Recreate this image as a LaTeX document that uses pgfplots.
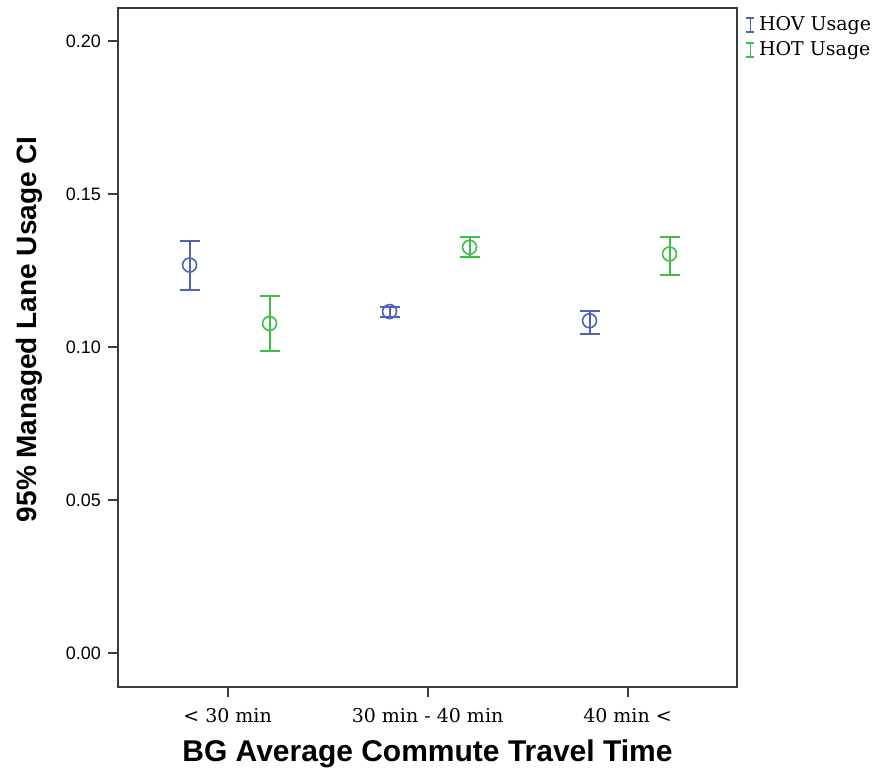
\documentclass[border=0pt]{standalone}
\usepackage{fontspec}
\setmainfont{Liberation Sans}
\newfontfamily\seriffont{DejaVu Serif}
\usepackage{pgfplots}
\pgfplotsset{compat=1.18}
\usepackage{pgfplotstable}
\definecolor{hovblue}{RGB}{78,98,186}
\definecolor{hotgreen}{RGB}{62,190,72}
\definecolor{axgray}{RGB}{60,60,60}

\pgfplotstableread{
x y ep em
0.81 0.1268 0.0080 0.0081
1.81 0.1116 0.0016 0.0018
2.81 0.1086 0.0033 0.0045
}\hov
\pgfplotstableread{
x y ep em
1.21 0.1077 0.0090 0.0090
2.21 0.1326 0.0035 0.0032
3.21 0.1304 0.0057 0.0067
}\hot

\begin{document}
\begin{tikzpicture}[x=0.5pt,y=0.5pt]
\useasboundingbox (-118,-91) rectangle (764,687);
\begin{axis}[
  at={(0,0)}, anchor=south west,
  scale only axis, width=309.5pt, height=339.5pt,
  xmin=0.452, xmax=3.5475,
  ymin=-0.0111, ymax=0.2108,
  axis line style={axgray, line width=1.1pt},
  tick style={axgray, line width=1pt},
  tick align=outside,
  xtick pos=left, ytick pos=left,
  xtick={1,2,3},
  xticklabels={< 30 min, 30 min - 40 min, 40 min <},
  x tick label style={font=\seriffont\fontsize{9.5}{11}\selectfont, yshift=-2pt},
  major tick length=5pt,
  ytick={0,0.05,0.10,0.15,0.20},
  yticklabel style={/pgf/number format/.cd, fixed, fixed zerofill, precision=2, /tikz/.cd, font=\fontsize{9}{10}\selectfont},
  /pgf/number format/assume math mode=true,
  scaled y ticks=false,
  xlabel={\bfseries BG Average Commute Travel Time},
  ylabel={\bfseries 95\% Managed Lane Usage CI},
  xlabel style={font=\fontsize{15}{17}\selectfont, yshift=-2pt},
  ylabel style={font=\fontsize{14}{16}\selectfont, at={(ticklabel cs:0.527)}, yshift=5pt},
  legend style={at={(1.01,1)}, anchor=north west, draw=none, fill=none,
    font=\seriffont\fontsize{9.5}{11}\selectfont, row sep=0pt, inner xsep=1pt},
  legend cell align=left,
]
\addlegendimage{legend image code/.code={\draw[hovblue, line width=0.75pt] (2pt,-3.5pt) -- (2pt,3.5pt) (0pt,-3.5pt) -- (4pt,-3.5pt) (0pt,3.5pt) -- (4pt,3.5pt);}}
\addlegendentry{HOV Usage}
\addlegendimage{legend image code/.code={\draw[hotgreen, line width=0.75pt] (2pt,-3.5pt) -- (2pt,3.5pt) (0pt,-3.5pt) -- (4pt,-3.5pt) (0pt,3.5pt) -- (4pt,3.5pt);}}
\addlegendentry{HOT Usage}

\addplot[forget plot, only marks, hovblue, mark=o, mark size=3.5pt, mark options={line width=0.8pt},
  error bars/.cd, y dir=both, y explicit,
  error bar style={line width=1pt, hovblue},
  error mark options={rotate=90, mark size=5pt, line width=1pt, hovblue}]
  table[x=x, y=y, y error plus=ep, y error minus=em] {\hov};
\addplot[forget plot, only marks, hotgreen, mark=o, mark size=3.5pt, mark options={line width=0.8pt},
  error bars/.cd, y dir=both, y explicit,
  error bar style={line width=1pt, hotgreen},
  error mark options={rotate=90, mark size=5pt, line width=1pt, hotgreen}]
  table[x=x, y=y, y error plus=ep, y error minus=em] {\hot};
\end{axis}
\end{tikzpicture}
\end{document}
